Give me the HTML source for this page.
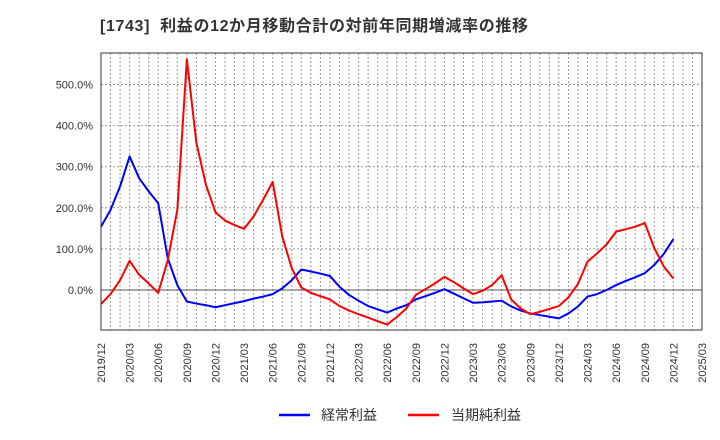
<!DOCTYPE html>
<html><head><meta charset="utf-8"><style>
body{margin:0;background:#fff;}
svg{display:block;font-family:"Liberation Sans","Noto Sans CJK JP",sans-serif;}
</style></head><body>
<svg id="chart" width="720" height="440" viewBox="0 0 720 440">
<text x="100" y="31" font-size="16" font-weight="bold" fill="#333" textLength="428">[1743]&#160;&#160;利益の12か月移動合計の対前年同期増減率の推移</text>
<g id="grid"></g>
<g id="yticks"></g>
<g id="xticks"></g>
<g id="series"></g>
<rect x="101" y="53" width="601" height="277" fill="none" stroke="#333" stroke-width="1"/>
<g>
<g><line x1="279" y1="415" x2="310" y2="415" stroke="#00f" stroke-width="2.5"/><text x="321" y="420" font-size="14" fill="#333">経常利益</text></g>
<g><line x1="408" y1="415" x2="439" y2="415" stroke="#f00" stroke-width="2.5"/><text x="451" y="420" font-size="14" fill="#333">当期純利益</text></g>
</g>
</svg>
<script>
const yTicks=[0,100,200,300,400,500];
const xTickLabels=["2019/12","2020/03","2020/06","2020/09","2020/12","2021/03","2021/06","2021/09","2021/12","2022/03","2022/06","2022/09","2022/12","2023/03","2023/06","2023/09","2023/12","2024/03","2024/06","2024/09","2024/12","2025/03"];
const ordinaryProfit=[154,195,252,325,272,240,211,77,12,-28,-33,-37,-42,-37,-32,-27,-21,-16,-10,4,24,50,45,40,34,8,-12,-26,-39,-47,-55,-45,-37,-23,-15,-7,2,-9,-20,-31,-30,-28,-26,-40,-50,-57,-61,-65,-69,-57,-40,-16,-10,0,12,22,31,41,61,88,124];
const netProfit=[-34,-10,24,71,37,16,-7,73,195,561,358,256,189,169,158,149,179,220,263,130,53,6,-7,-15,-23,-39,-50,-59,-67,-76,-84,-66,-45,-12,2,16,32,19,4,-10,-2,12,36,-23,-45,-59,-53,-46,-39,-18,15,69,89,111,142,148,154,163,102,57,28];
const NS="http://www.w3.org/2000/svg";
const X0=101,X1=702,Y0=53,Y1=330,MONTHS=63;
const xs=i=>X0+i*(X1-X0)/MONTHS;
const ys=v=>290-v*0.411;
function mk(tag,attrs,parent){const e=document.createElementNS(NS,tag);for(const k in attrs)e.setAttribute(k,attrs[k]);parent.appendChild(e);return e;}
const grid=document.getElementById('grid'),yt=document.getElementById('yticks'),xt=document.getElementById('xticks'),ser=document.getElementById('series');
for(let m=1;m<MONTHS;m++){
 const l=mk('line',{x1:xs(m),x2:xs(m),y1:Y0,y2:Y1,stroke:'#999','stroke-width':1,'stroke-dasharray':'2,2'},grid);
 
 
}
yTicks.forEach(v=>{
 const l=mk('line',{x1:X0,x2:X1,y1:ys(v),y2:ys(v),stroke:v===0?'#555':'#999','stroke-width':1,'stroke-dasharray':v===0?'none':'2,2'},grid);
 
 
 const t=mk('text',{x:93,y:ys(v)+4,'text-anchor':'end','font-size':11,fill:'#333'},yt);
 t.textContent=v.toFixed(1)+'%';
 
 
});
xTickLabels.forEach((s,i)=>{
 const x=xs(i*3);
 const t=mk('text',{x:0,y:0,transform:`translate(${x+4},343) rotate(-90)`,'text-anchor':'end','font-size':11,fill:'#333'},xt);
 t.textContent=s;
 
 
});
function line(data,color,name){
 const p=mk('polyline',{points:data.map((v,i)=>xs(i)+','+ys(v)).join(' '),fill:'none',stroke:color,'stroke-width':2,'stroke-linejoin':'round'},ser);
 
 
}
line(ordinaryProfit,'#00f','ordinary-profit-line');
line(netProfit,'#f00','net-profit-line');
</script>
</body></html>
